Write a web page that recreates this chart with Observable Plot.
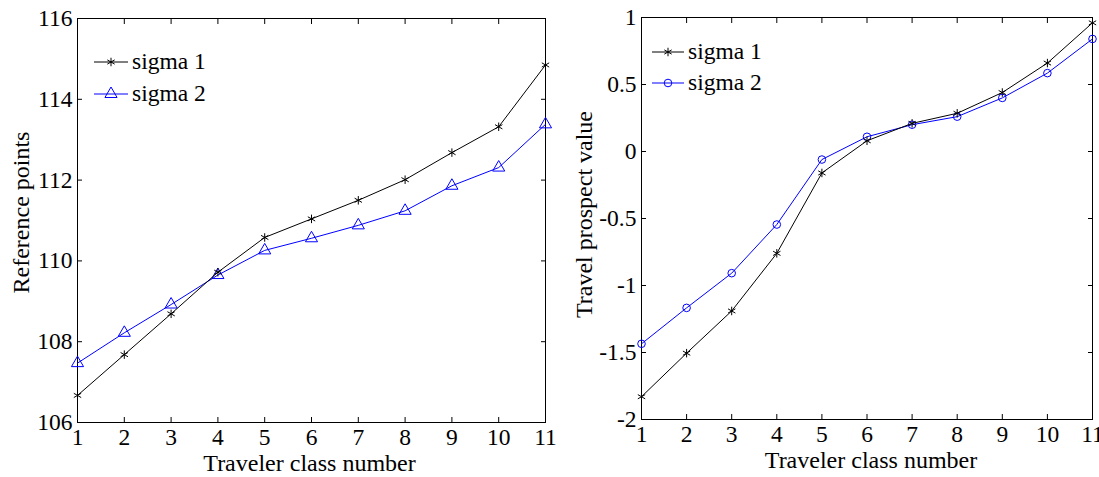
<!DOCTYPE html>
<html>
<head>
<meta charset="utf-8">
<script src="https://cdn.jsdelivr.net/npm/d3@7"></script>
<script src="https://cdn.jsdelivr.net/npm/@observablehq/plot@0.6"></script>
<style>
  html, body { margin: 0; padding: 0; background: #fff; }
  #wrap { position: relative; width: 1099px; height: 477px; font-family: "Liberation Serif", "Times New Roman", serif; }
  .panel { position: absolute; top: 0; }
  .legend { position: absolute; font-size: 23.5px; color: #000; line-height: 1; }
  .legend .row { display: flex; align-items: center; }
  .legend svg { display: block; margin-right: 4px; overflow: visible; }
</style>
</head>
<body>
<div id="wrap"></div>
<script>
// ---- data ----
const classes = [1, 2, 3, 4, 5, 6, 7, 8, 9, 10, 11];
const seriesNames = ["sigma 1", "sigma 2"];
const xLabel = "Traveler class number";
const refLabel = "Reference points";
const prospectLabel = "Travel prospect value";
const refSigma1 = [106.67, 107.68, 108.69, 109.72, 110.58, 111.04, 111.50, 112.01, 112.68, 113.32, 114.85];
const refSigma2 = [107.47, 108.22, 108.92, 109.65, 110.26, 110.56, 110.88, 111.24, 111.86, 112.31, 113.38];
const prospectSigma1 = [-1.83, -1.505, -1.19, -0.76, -0.16, 0.08, 0.21, 0.285, 0.44, 0.66, 0.96];
const prospectSigma2 = [-1.435, -1.167, -0.908, -0.545, -0.06, 0.11, 0.20, 0.26, 0.40, 0.585, 0.84];
const refTicks = [106, 108, 110, 112, 114, 116];
const prospectTicks = [-2, -1.5, -1, -0.5, 0, 0.5, 1];

const wrap = document.getElementById("wrap");
const FONT = "Liberation Serif, Times New Roman, serif";
const TICK_FS = 23.5;
const LABEL_FS = 24;

function rows(vals) { return classes.map((c, i) => ({x: c, y: vals[i]})); }

function panel({left, width, marginLeft, marginRight, marginTop, marginBottom, yDomain, yTicks, ylabel,
                ylabelDx, ylabelDy, xlabelDx, xlabelDy, s1, s2, sym2, r2, legendPos, legendLine, legendRow}) {
  const d1 = rows(s1), d2 = rows(s2);
  const fmt = d => String(d);
  const chart = Plot.plot({
    width, height: 477,
    marginLeft, marginRight, marginTop, marginBottom,
    x: {domain: [1, 11]},
    y: {domain: yDomain},
    style: {fontFamily: FONT, fontSize: "24px", color: "#000", background: "transparent", overflow: "visible"},
    marks: [
      Plot.axisX({anchor: "bottom", ticks: classes, tickSize: -5, tickPadding: 11, tickFormat: fmt, label: null, fontSize: TICK_FS}),
      Plot.axisX({anchor: "top", ticks: classes, tickSize: -5, tickFormat: () => "", label: null}),
      Plot.axisY({anchor: "left", ticks: yTicks, tickSize: -5, tickPadding: 10, tickFormat: fmt, label: null, fontSize: TICK_FS}),
      Plot.axisY({anchor: "right", ticks: yTicks, tickSize: -5, tickFormat: () => "", label: null}),
      Plot.text([xLabel], {text: d => d, frameAnchor: "bottom", lineAnchor: "middle", textAnchor: "middle",
        dx: xlabelDx, dy: xlabelDy, fontSize: LABEL_FS}),
      Plot.text([ylabel], {text: d => d, frameAnchor: "left", rotate: -90, lineAnchor: "middle", textAnchor: "middle",
        dx: ylabelDx, dy: ylabelDy, fontSize: LABEL_FS}),
      Plot.frame({stroke: "#000", strokeWidth: 1}),
      Plot.line(d2, {x: "x", y: "y", stroke: "#0000ff", strokeWidth: 1}),
      Plot.dot(d2, {x: "x", y: "y", symbol: sym2, r: r2, stroke: "#0000ff", fill: "none", strokeWidth: 1}),
      Plot.line(d1, {x: "x", y: "y", stroke: "#000", strokeWidth: 1}),
      Plot.dot(d1, {x: "x", y: "y", symbol: "asterisk", r: 4, stroke: "#000", strokeWidth: 1})
    ]
  });
  const div = document.createElement("div");
  div.className = "panel";
  div.style.left = left + "px";
  div.appendChild(chart);
  wrap.appendChild(div);

  // legend
  const lg = document.createElement("div");
  lg.className = "legend";
  lg.style.left = legendPos[0] + "px";
  lg.style.top = legendPos[1] + "px";
  const specs = [
    {name: seriesNames[0], color: "#000", type: d3.symbolAsterisk, r: 4},
    {name: seriesNames[1], color: "#0000ff", type: sym2 === "triangle" ? d3.symbolTriangle : d3.symbolCircle, r: r2}
  ];
  specs.forEach(s => {
    const row = document.createElement("div");
    row.className = "row";
    row.style.height = legendRow + "px";
    const svg = d3.create("svg").attr("width", legendLine).attr("height", 20);
    svg.append("line").attr("x1", 0).attr("x2", legendLine).attr("y1", 10).attr("y2", 10).attr("stroke", s.color).attr("stroke-width", 1);
    svg.append("path").attr("transform", `translate(${legendLine / 2},10)`)
      .attr("d", d3.symbol(s.type, Math.PI * s.r * s.r)())
      .attr("fill", "none").attr("stroke", s.color).attr("stroke-width", 1);
    row.appendChild(svg.node());
    const t = document.createElement("span");
    t.textContent = s.name;
    row.appendChild(t);
    lg.appendChild(row);
  });
  wrap.appendChild(lg);
}

panel({left: 0, width: 560, marginLeft: 77, marginRight: 15, marginTop: 18, marginBottom: 55,
  yDomain: [106, 116], yTicks: refTicks, ylabel: refLabel,
  ylabelDx: -56, ylabelDy: -8, xlabelDx: -2, xlabelDy: 41,
  s1: refSigma1, s2: refSigma2, sym2: "triangle", r2: 4.5,
  legendPos: [94, 46], legendLine: 34, legendRow: 32});

panel({left: 560, width: 539, marginLeft: 81, marginRight: 7, marginTop: 17, marginBottom: 58,
  yDomain: [-2, 1], yTicks: prospectTicks, ylabel: prospectLabel,
  ylabelDx: -57, ylabelDy: -4, xlabelDx: 4, xlabelDy: 41,
  s1: prospectSigma1, s2: prospectSigma2, sym2: "circle", r2: 3.8,
  legendPos: [652, 36], legendLine: 32, legendRow: 31});
</script>
</body>
</html>
